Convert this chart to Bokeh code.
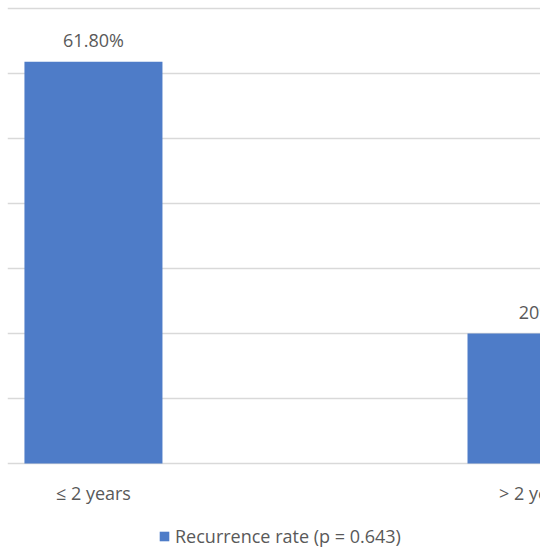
from bokeh.plotting import figure
from bokeh.models import ColumnDataSource, Range1d, FixedTicker, Legend, LegendItem
from bokeh.core.properties import value
from bokeh.embed import file_html
from bokeh.resources import INLINE

# Recurrence rate by time group
categories = ["≤ 2 years", "> 2 years"]
rates = [61.80, 20.0]
rate_labels = ["61.80%", "20%"]
series_name = "Recurrence rate (p = 0.643)"
grid_ticks = [0, 10, 20, 30, 40, 50, 60, 70]

BAR = "#4E7CC8"
GRID = "#D9D9D9"
TEXT = "#595959"
FONT = "Open Sans"

positions = list(range(len(categories)))
src = ColumnDataSource(dict(x=positions, top=rates, label=rate_labels,
                            cat=categories, base=[0] * len(categories)))

# the frame spans the whole canvas height; the value scale runs 0-70
# with room below zero for category names and the legend
px_per_unit = 6.5
p = figure(width=540, height=548, output_backend="svg", toolbar_location=None,
           x_range=Range1d(-0.194, 1.009),
           y_range=Range1d(-85 / px_per_unit, 70 + 8 / px_per_unit),
           min_border_left=7, min_border_right=0, min_border_top=0,
           min_border_bottom=0)
p.outline_line_color = None
p.background_fill_color = "white"
p.border_fill_color = "white"
p.xaxis.visible = False
p.yaxis.visible = False
p.xgrid.grid_line_color = None
p.ygrid.ticker = FixedTicker(ticks=grid_ticks)
p.ygrid.grid_line_color = GRID
p.ygrid.grid_line_width = 1.6

bars = p.vbar(x="x", top="top", bottom="base", width=0.3115, source=src,
              fill_color=BAR, line_color=None)

# value labels above bars
p.text(x="x", y="top", text="label", source=src, y_offset=-22,
       text_align="center", text_baseline="middle",
       text_font=value(FONT), text_font_size="18px", text_color=TEXT)

# category names under the baseline
p.text(x="x", y="base", text="cat", source=src, y_offset=29,
       text_align="center", text_baseline="middle",
       text_font=value(FONT), text_font_size="18px", text_color=TEXT)

legend = Legend(items=[LegendItem(label=series_name, renderers=[bars])],
                location=(151, 0), orientation="horizontal",
                label_text_font=FONT, label_text_font_size="18px",
                label_text_color=TEXT, glyph_width=12, glyph_height=12,
                label_height=20, label_standoff=5, padding=0, margin=0,
                border_line_color=None, background_fill_alpha=0)
p.add_layout(legend, "center")

open("out.html", "w").write(file_html(p, INLINE))
